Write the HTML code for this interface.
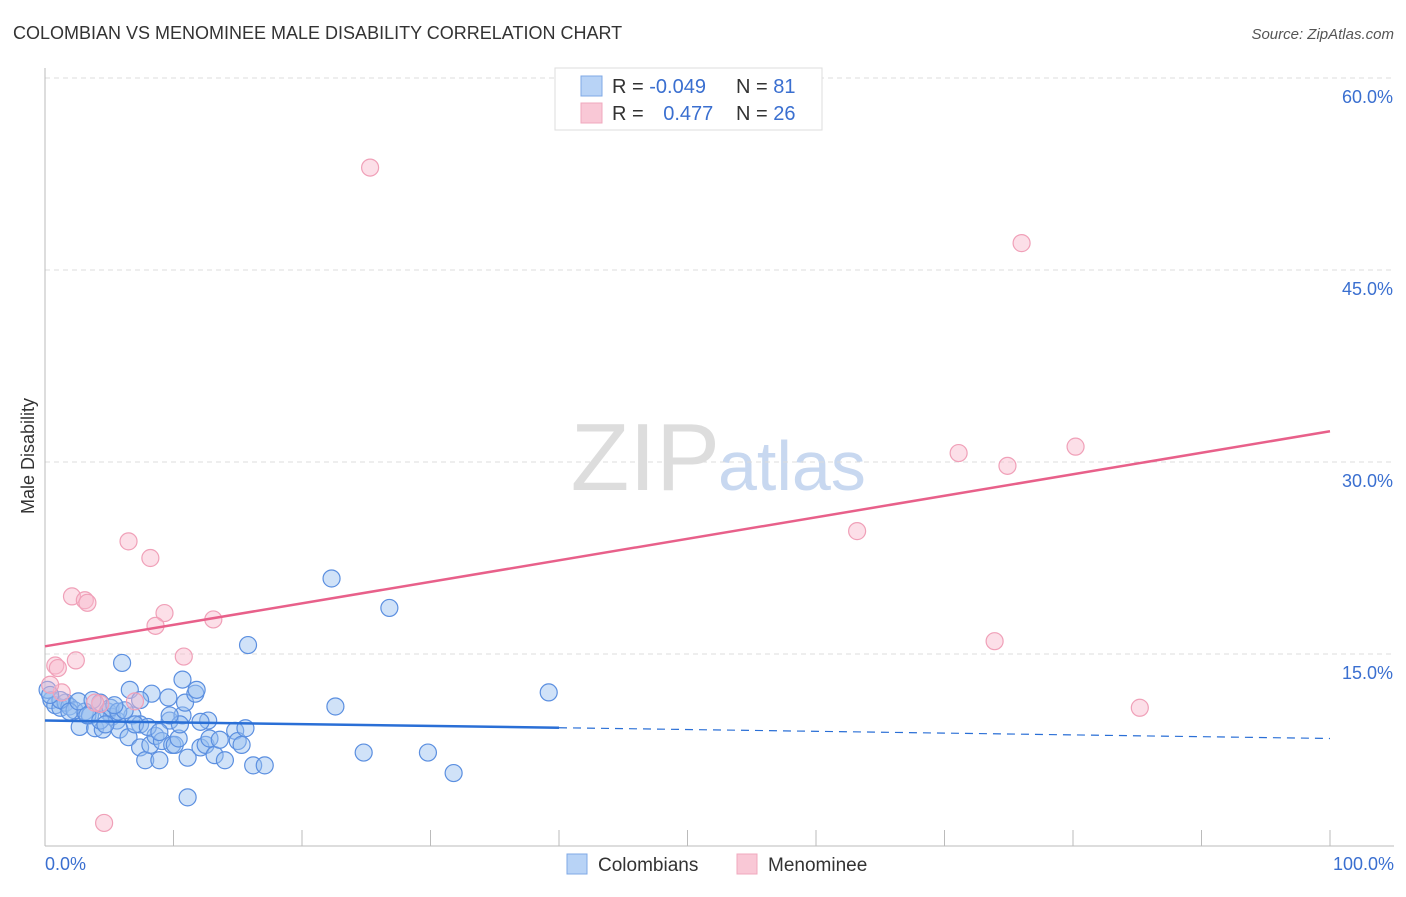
<!DOCTYPE html>
<html><head><meta charset="utf-8"><style>
body{margin:0;background:#fff;font-family:"Liberation Sans",sans-serif}
svg text{font-family:"Liberation Sans",sans-serif}
</style></head><body>
<svg id="chart" width="1406" height="892" xmlns="http://www.w3.org/2000/svg">
<text x="13" y="39" font-size="18" fill="#333">COLOMBIAN VS MENOMINEE MALE DISABILITY CORRELATION CHART</text>
<text x="1394" y="39" font-size="15" fill="#555" font-style="italic" text-anchor="end">Source: ZipAtlas.com</text>
<text x="720" y="490" font-size="96" fill="#ddd" text-anchor="end" font-family="Liberation Serif">ZIP</text>
<text x="718" y="490" font-size="70" fill="#c8d8f0">atlas</text>
<text transform="translate(34,456) rotate(-90)" font-size="18" fill="#333" text-anchor="middle">Male Disability</text>
<g id="grid"></g><g id="pts"></g><g id="lines"></g>
<g>
<rect x="555" y="68" width="267" height="62" fill="#fff" stroke="#ddd"/>
<rect x="581" y="76" width="21" height="20" fill="#b8d3f6" stroke="#7fa8e6"/>
<rect x="581" y="103" width="21" height="20" fill="#f9c8d6" stroke="#f0a8be"/>
<text x="612" y="93" font-size="20" fill="#333">R = <tspan fill="#3a6fd0">-0.049</tspan></text>
<text x="736" y="93" font-size="20" fill="#333">N =  <tspan fill="#3a6fd0">81</tspan></text>
<text x="612" y="120" font-size="20" fill="#333">R = <tspan fill="#3a6fd0" dx="14">0.477</tspan></text>
<text x="736" y="120" font-size="20" fill="#333">N = <tspan fill="#3a6fd0">26</tspan></text>
</g>
<g>
<rect x="567" y="854" width="20" height="20" fill="#b8d3f6" stroke="#7fa8e6"/>
<text x="598" y="871" font-size="19" fill="#333">Colombians</text>
<rect x="737" y="854" width="20" height="20" fill="#f9c8d6" stroke="#f0a8be"/>
<text x="768" y="871" font-size="19" fill="#333">Menominee</text>
</g>
</svg>
<script>
const yTicks=[15,30,45,60];
const yTickLabels=["15.0%","30.0%","45.0%","60.0%"];
const xTickLabels=["0.0%","100.0%"];
const blueX=[0.5,0.8,1.2,1.6,1.9,2.3,2.7,3.1,3.5,3.9,4.3,4.5,4.9,5.2,5.6,5.8,6.0,6.5,6.6,6.8,7.4,7.4,7.8,8.2,8.3,8.6,8.9,9.1,9.6,9.7,9.9,10.1,10.4,10.7,10.9,11.1,11.7,11.8,12.1,12.5,12.7,12.8,13.2,13.6,14.0,14.8,15.0,15.3,15.6,15.8,16.2,17.1,11.1,22.3,22.6,24.8,26.8,29.8,31.8,39.2,5.1,5.7,7.0,8.0,8.9,10.5,1.2,1.9,3.3,4.3,6.2,7.4,9.7,12.1,10.7,0.2,0.4,2.6,3.7,4.7,5.4];
const blueY=[11.4,11.0,10.8,11.2,10.9,10.6,9.3,10.5,10.2,9.2,11.2,9.1,10.5,10.1,9.8,9.1,14.3,8.5,12.2,10.2,9.5,7.7,6.7,7.9,11.9,8.6,6.7,8.2,11.6,9.8,7.9,7.9,8.4,10.2,11.2,6.9,11.9,12.2,7.7,7.9,9.8,8.4,7.1,8.3,6.7,9.0,8.2,7.9,9.2,15.7,6.3,6.3,3.8,20.9,10.9,7.3,18.6,7.3,5.7,12.0,10.8,10.5,9.5,9.3,8.9,9.5,11.4,10.5,10.2,9.8,10.6,11.4,10.2,9.7,13.0,12.2,11.8,11.3,11.4,9.5,11.0];
const pinkX=[25.3,76.0,71.1,74.9,80.2,63.2,73.9,85.2,6.5,8.2,2.1,3.1,3.3,9.3,8.6,13.1,10.8,2.4,0.8,1.0,1.3,7.0,4.3,4.6,0.4,3.9];
const pinkY=[53.0,47.1,30.7,29.7,31.2,24.6,16.0,10.8,23.8,22.5,19.5,19.2,19.0,18.2,17.2,17.7,14.8,14.5,14.1,13.9,12.0,11.3,11.1,1.8,12.6,11.2];
const blueTrend=[9.8,8.4];
const pinkTrend=[15.6,32.4];
const X=v=>45+v*12.85, Y=v=>846-v*12.8;
const NS="http://www.w3.org/2000/svg";
function mk(t,a,p){const e=document.createElementNS(NS,t);for(const k in a)e.setAttribute(k,a[k]);p.appendChild(e);return e;}
const g=document.getElementById('grid');
yTicks.forEach((t,i)=>{
 const l=mk('line',{x1:45,x2:1394,y1:Y(t),y2:Y(t),stroke:'#ddd','stroke-dasharray':'5,4'},g);
 
 
 const tx=mk('text',{x:1393,y:Y(t)+25,'font-size':18,fill:'#3a6fd0','text-anchor':'end'},g);
 tx.textContent=yTickLabels[i];
 
 
});
mk('line',{x1:45,x2:45,y1:68,y2:846,stroke:'#bbb'},g);
mk('line',{x1:45,x2:1394,y1:846,y2:846,stroke:'#bbb'},g);
for(let i=1;i<=10;i++){mk('line',{x1:X(i*10),x2:X(i*10),y1:830,y2:846,stroke:'#bbb'},g);}
[[0,'start',45],[100,'end',1394]].forEach((d,i)=>{
 const tx=mk('text',{x:d[2],y:870,'font-size':18,fill:'#3a6fd0','text-anchor':d[1]},g);
 tx.textContent=xTickLabels[i];
 
 
});
const p=document.getElementById('pts');
blueX.forEach((x,i)=>{const c=mk('circle',{cx:X(x),cy:Y(blueY[i]),r:8.5,fill:'rgba(150,190,240,0.45)',stroke:'#5b8fe0','stroke-width':1.2},p);
 
 });
pinkX.forEach((x,i)=>{const c=mk('circle',{cx:X(x),cy:Y(pinkY[i]),r:8.5,fill:'rgba(248,185,205,0.45)',stroke:'#f0a0b8','stroke-width':1.2},p);
 
 });
const L=document.getElementById('lines');
const bAt=x=>blueTrend[0]+(blueTrend[1]-blueTrend[0])*x/100;
let l1=mk('line',{x1:X(0),y1:Y(bAt(0)),x2:X(40),y2:Y(bAt(40)),stroke:'#2a6fd6','stroke-width':2.5},L);


let l2=mk('line',{x1:X(40),y1:Y(bAt(40)),x2:X(100),y2:Y(bAt(100)),stroke:'#2a6fd6','stroke-width':1.2,'stroke-dasharray':'8,6'},L);


let l3=mk('line',{x1:X(0),y1:Y(pinkTrend[0]),x2:X(100),y2:Y(pinkTrend[1]),stroke:'#e8608a','stroke-width':2.5},L);


</script>
</body></html>
